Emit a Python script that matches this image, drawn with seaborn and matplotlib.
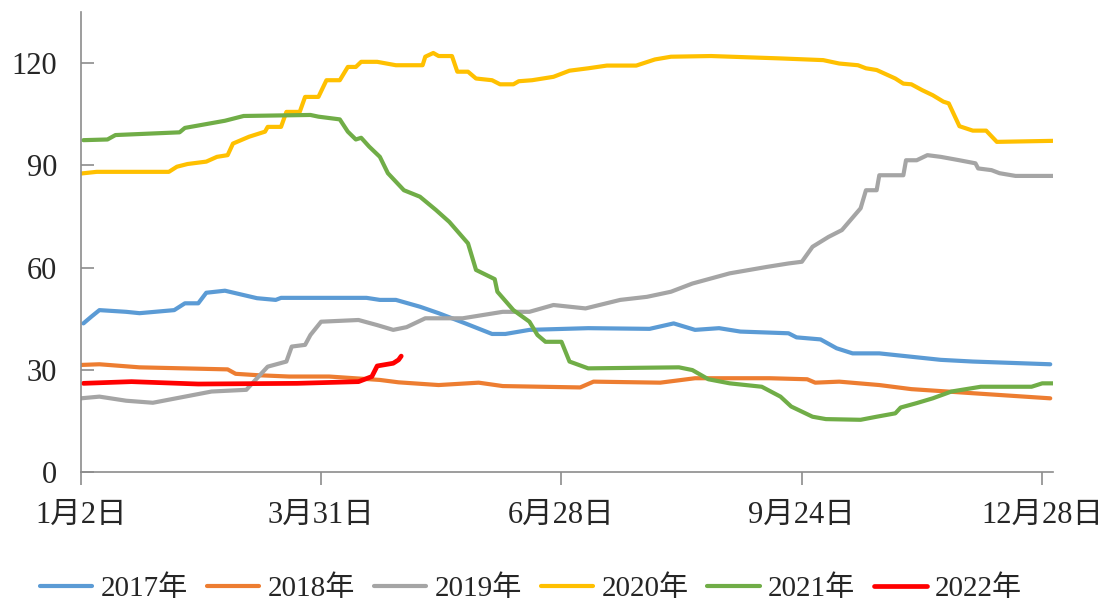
import pandas as pd
import numpy as np
import matplotlib
matplotlib.use('Agg')
import matplotlib.pyplot as plt
import seaborn as sns

# x = position along the year (0 = 1月2日, 360 = 12月28日), y = value
x2017 = [1, 4, 7, 17, 22, 35, 39, 44, 47, 54, 66, 73, 75, 107, 112, 118, 127, 134, 144, 154, 159, 168,
         190, 213, 222, 230, 239, 247, 265, 268, 277, 283, 289, 299, 322, 334, 363]
y2017 = [43.6, 45.6, 47.5, 47.0, 46.6, 47.5, 49.5, 49.5, 52.6, 53.2, 51.0, 50.5, 51.1, 51.1, 50.5, 50.5,
         48.5, 46.6, 43.6, 40.5, 40.5, 41.7, 42.2, 42.0, 43.6, 41.7, 42.2, 41.2, 40.7, 39.5, 38.9, 36.3,
         34.8, 34.8, 32.9, 32.4, 31.6]

x2018 = [0, 7, 22, 55, 58, 66, 78, 93, 112, 119, 134, 149, 158, 187, 192, 217, 230, 258, 272, 275,
         284, 299, 311, 334, 363]
y2018 = [31.4, 31.6, 30.7, 30.1, 28.8, 28.4, 28.0, 28.0, 27.0, 26.3, 25.5, 26.2, 25.2, 24.8, 26.5,
         26.2, 27.5, 27.5, 27.2, 26.2, 26.5, 25.5, 24.3, 23.1, 21.6]

x2019 = [0, 7, 17, 27, 39, 49, 62, 66, 70, 77, 79, 84, 86, 90, 104, 111, 117, 122, 129, 143, 158,
         168, 177, 189, 202, 212, 221, 229, 243, 257, 265, 270, 274, 280, 285, 292, 294, 298, 299,
         308, 309, 313, 317, 322, 329, 335, 336, 341, 344, 350, 364]
y2019 = [21.6, 22.1, 20.9, 20.3, 22.1, 23.6, 24.1, 27.5, 30.9, 32.4, 36.8, 37.3, 40.2, 44.1, 44.6,
         43.1, 41.7, 42.5, 45.1, 45.1, 47.0, 47.0, 49.0, 48.0, 50.5, 51.4, 52.9, 55.3, 58.3, 60.2,
         61.2, 61.7, 66.1, 69.0, 71.0, 77.4, 82.7, 82.7, 87.1, 87.1, 91.5, 91.5, 93.0, 92.5, 91.5,
         90.6, 89.1, 88.6, 87.7, 86.9, 86.9]

x2020 = [0, 6, 33, 36, 40, 47, 51, 55, 57, 63, 69, 70, 75, 77, 82, 84, 89, 92, 97, 100, 103, 105,
         111, 118, 128, 129, 132, 134, 139, 141, 145, 148, 154, 157, 162, 164, 169, 177, 183, 190,
         197, 208, 215, 221, 236, 262, 278, 284, 291, 294, 298, 305, 308, 311, 315, 319, 323, 325,
         329, 334, 339, 343, 364]
y2020 = [87.6, 88.1, 88.1, 89.6, 90.4, 91.1, 92.5, 93.0, 96.4, 98.4, 99.9, 101.3, 101.3, 105.7,
         105.7, 110.1, 110.1, 115.0, 115.0, 118.9, 118.9, 120.4, 120.4, 119.4, 119.4, 121.9, 123.0,
         122.1, 122.1, 117.5, 117.5, 115.5, 115.0, 113.8, 113.8, 114.7, 115.0, 116.0, 117.8, 118.5,
         119.3, 119.3, 121.1, 121.9, 122.1, 121.4, 120.9, 119.9, 119.4, 118.5, 118.0, 115.5, 114.0,
         113.8, 112.1, 110.6, 108.7, 108.2, 101.5, 100.2, 100.2, 96.9, 97.2]

x2021 = [1, 10, 13, 37, 39, 54, 61, 86, 89, 97, 100, 103, 105, 108, 112, 115, 121, 127, 133, 138,
         145, 148, 155, 156, 162, 168, 171, 174, 180, 183, 190, 224, 229, 235, 243, 255, 262, 266,
         274, 279, 292, 298, 305, 307, 313, 319, 326, 337, 356, 360, 364]
y2021 = [97.4, 97.6, 98.9, 99.7, 101.0, 103.1, 104.5, 104.8, 104.3, 103.5, 99.9, 97.6, 98.1, 95.5,
         92.5, 87.7, 82.7, 80.8, 76.9, 73.4, 67.1, 59.3, 56.6, 52.9, 47.5, 44.1, 40.2, 38.2, 38.2,
         32.4, 30.4, 30.7, 29.9, 27.2, 26.0, 25.0, 22.1, 19.2, 16.2, 15.5, 15.3, 16.2, 17.2, 18.9,
         20.2, 21.6, 23.6, 25.0, 25.0, 26.0, 26.0]

x2022 = [1, 19, 44, 81, 104, 109, 111, 117, 119, 120]
y2022 = [26.0, 26.5, 25.8, 26.0, 26.5, 28.0, 31.1, 31.9, 32.9, 34.0]

years = ['2017年', '2018年', '2019年', '2020年', '2021年', '2022年']
colors = ['#5B9BD5', '#ED7D31', '#A5A5A5', '#FFC000', '#70AD47', '#FF0000']
tick_pos = [0, 90, 180, 270, 360]
tick_labels = ['1月2日', '3月31日', '6月28日', '9月24日', '12月28日']

series = [(x2017, y2017), (x2018, y2018), (x2019, y2019),
          (x2020, y2020), (x2021, y2021), (x2022, y2022)]

sns.set_style('white')
plt.rcParams['font.family'] = ['Liberation Serif', 'Noto Sans CJK SC']

fig = plt.figure(figsize=(11.06, 6.05), dpi=100)
ax = fig.add_axes([0.073, 0.22, 0.879, 0.76])

for (xs, ys), name, c in zip(series, years, colors):
    df = pd.DataFrame({'x': xs, 'y': ys})
    lw = 3.4 if name == '2022年' else 3.0
    sns.lineplot(data=df, x='x', y='y', ax=ax, color=c, linewidth=lw,
                 estimator=None, sort=False, label=name)

ax.set_xlim(0, 364)
ax.set_ylim(0, 135)
ax.set_yticks([0, 30, 60, 90, 120])
ax.set_xticks(tick_pos)
ax.set_xticklabels(tick_labels)
ax.set_xlabel('')
ax.set_ylabel('')

for s in ['top', 'right']:
    ax.spines[s].set_visible(False)
for s in ['left', 'bottom']:
    ax.spines[s].set_color('#8c8c8c')
    ax.spines[s].set_linewidth(1.2)

ax.tick_params(axis='y', direction='in', length=9, width=1.2, color='#8c8c8c',
               labelsize=22, pad=17, left=True)
ax.tick_params(axis='x', direction='out', length=9, width=1.2, color='#8c8c8c',
               labelsize=22, pad=12, bottom=True)

handles, labels = ax.get_legend_handles_labels()
ax.get_legend().remove()
fig.legend(handles, labels, loc='lower center', bbox_to_anchor=(0.48, -0.038), ncol=6,
           frameon=False, fontsize=21, handlelength=1.8, handletextpad=0.28,
           columnspacing=0.65)

fig.savefig('out.png', dpi=100)
